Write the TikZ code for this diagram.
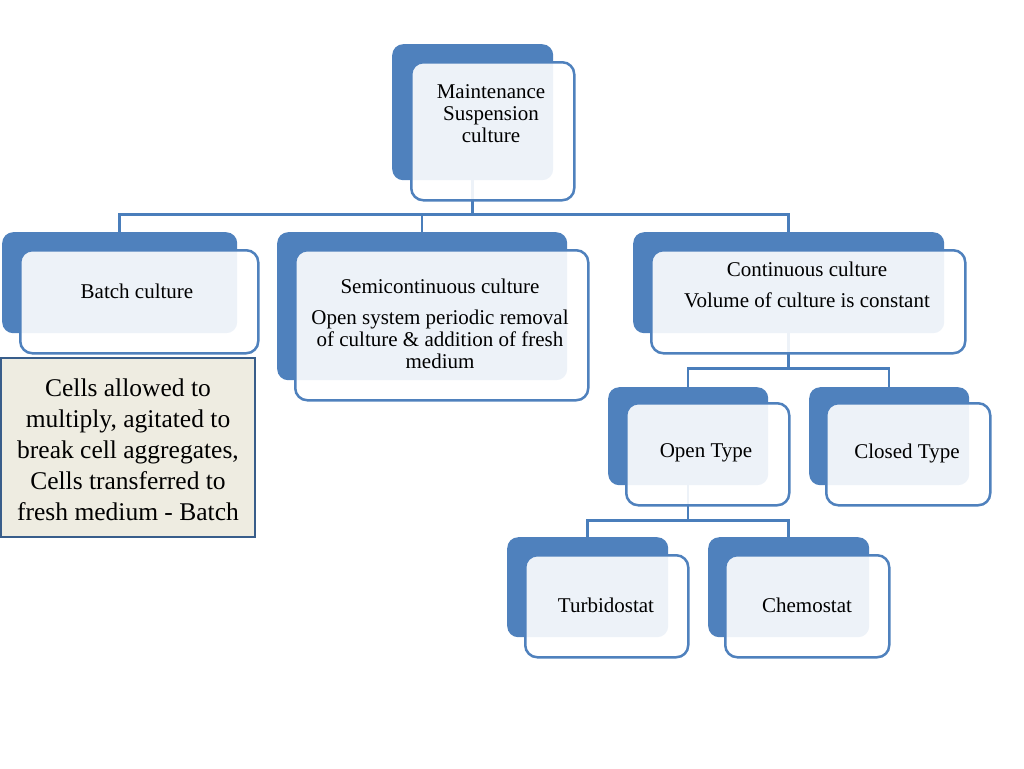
\documentclass[tikz,border=0pt]{standalone}
\usepackage{fontspec}
\setmainfont{Liberation Serif}
\definecolor{accent}{HTML}{4F81BD}
\definecolor{connc}{HTML}{4A7EBB}
\definecolor{tanbg}{HTML}{EEECE1}
\definecolor{tanline}{HTML}{385D8A}
\tikzset{
  backbox/.style={fill=accent, draw=none, rounded corners=11pt, anchor=north west, inner sep=0pt},
  frontbox/.style={fill=white, fill opacity=0.9, draw=accent, draw opacity=1, line width=2.5pt, rounded corners=12pt, anchor=north west, inner sep=0pt},
  lbl/.style={align=center, inner sep=0pt, font=\fontsize{21}{22}\selectfont, text=black},
  conn/.style={draw=connc, line width=2.5pt},
  cellsbox/.style={fill=tanbg, draw=tanline, line width=2.5pt, inner sep=0pt}
}
\begin{document}
\begin{tikzpicture}[x=1pt,y=-1pt]
\useasboundingbox (0,0) rectangle (1024,768);
% back boxes
\node[backbox, minimum width=161pt, minimum height=136pt] (mB) at (392,44) {};
\node[backbox, minimum width=235pt, minimum height=101pt] (bB) at (2,232) {};
\node[backbox, minimum width=290pt, minimum height=148pt] (sB) at (277,232) {};
\node[backbox, minimum width=311pt, minimum height=101pt] (cB) at (633,232) {};
\node[backbox, minimum width=160pt, minimum height=98pt] (oB) at (608,387) {};
\node[backbox, minimum width=160pt, minimum height=98pt] (clB) at (809,387) {};
\node[backbox, minimum width=161pt, minimum height=100pt] (tB) at (507,537) {};
\node[backbox, minimum width=161pt, minimum height=100pt] (chB) at (708,537) {};
% connectors
\draw[conn] (mB.south) -- ++(0,34) -| (bB.north);
\draw[conn] (mB.south) -- ++(0,34) -| (sB.north);
\draw[conn] (mB.south) -- ++(0,34) -| (cB.north);
\draw[conn] (cB.south) -- ++(0,35) -| (oB.north);
\draw[conn] (cB.south) -- ++(0,35) -| (clB.north);
\draw[conn] (oB.south) -- ++(0,35) -| (tB.north);
\draw[conn] (oB.south) -- ++(0,35) -| (chB.north);
% front boxes
\node[frontbox, minimum width=163pt, minimum height=138pt] (mF) at (410,61) {};
\node[frontbox, minimum width=238pt, minimum height=103pt] (bF) at (19,249) {};
\node[frontbox, minimum width=293pt, minimum height=150pt] (sF) at (294,249) {};
\node[frontbox, minimum width=314pt, minimum height=103pt] (cF) at (650,249) {};
\node[frontbox, minimum width=163pt, minimum height=102pt] (oF) at (625,402) {};
\node[frontbox, minimum width=164pt, minimum height=102pt] (clF) at (825,402) {};
\node[frontbox, minimum width=163pt, minimum height=102pt] (tF) at (524,554) {};
\node[frontbox, minimum width=164pt, minimum height=102pt] (chF) at (724,554) {};
% labels
\node[lbl] (mT) at (491,114) {Maintenance\\Suspension\\culture};
\node[lbl] (bT) at (137,291) {Batch culture};
\node[lbl] (sT) at (440,324) {Semicontinuous culture\\[9pt]Open system periodic removal\\of culture \& addition of fresh\\medium};
\node[lbl] (cT) at (807,285) {Continuous culture\\[9pt]Volume of culture is constant};
\node[lbl] (oT) at (706,453) {Open Type};
\node[lbl] (clT) at (907,453) {Closed Type};
\node[lbl] (tT) at (606,605) {Turbidostat};
\node[lbl] (chT) at (807,605) {Chemostat};
% note box
\node[cellsbox, minimum width=254pt, minimum height=179pt] (cells) at (128,447.5) {};
\node[align=center, inner sep=0pt, font=\fontsize{25.5}{31}\selectfont] (cellsT) at (128,450) {Cells allowed to\\multiply, agitated to\\break cell aggregates,\\Cells transferred to\\fresh medium - Batch};
\end{tikzpicture}
\end{document}
